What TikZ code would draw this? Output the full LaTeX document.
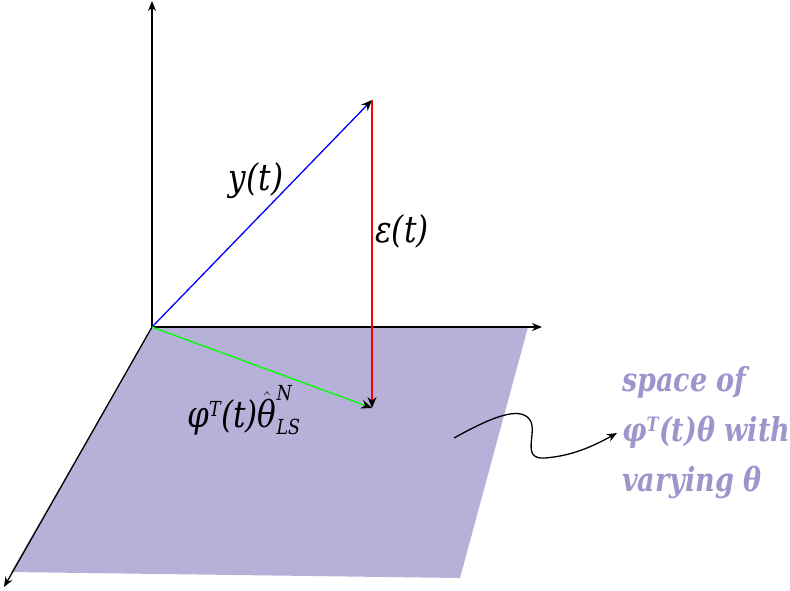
\documentclass[tikz,border=0pt]{standalone}
\usepackage{fontspec}
\setmainfont{DejaVu Serif}
\usetikzlibrary{arrows.meta}
\definecolor{planec}{HTML}{B6B1D9}
\definecolor{textc}{HTML}{9C96CC}
\newcommand{\smallit}[1]{\mbox{\fontsize{18}{18}\selectfont\itshape #1}}
\newcommand{\smallbf}[1]{\mbox{\fontsize{18}{18}\selectfont\bfseries\itshape #1}}
\begin{document}
\begin{tikzpicture}[x=1pt,y=-1pt,
  axis/.style={black,line width=1.3pt,-{Stealth[length=10pt,width=8pt]}},
  vec/.style={line width=1.3pt,-{Stealth[length=11pt,width=9pt,black]}},
  lbl/.style={font=\fontsize{32}{36}\selectfont\itshape,inner sep=0pt,xscale=0.97,yscale=1.15}]
\useasboundingbox (0,0) rectangle (790,590);
\coordinate (O) at (152,327);
\coordinate (Top) at (152,1);
\coordinate (Right) at (542,327);
\coordinate (Down) at (4,587);
\coordinate (P1) at (528,327);
\coordinate (P2) at (460,578);
\coordinate (P3) at (11,572);
\coordinate (Y) at (372,100);
\coordinate (F) at (372,408);
\fill[planec] (O) -- (P1) -- (P2) -- (P3) -- cycle;
\draw[axis] (O) -- (Top);
\draw[axis] (O) -- (Right);
\draw[axis] (O) -- (Down);
\draw[vec,blue] (O) -- (Y);
\draw[vec,red] (Y) -- (F);
\draw[vec,green] (O) -- (F);
\node[lbl] (ly) at (256,181) {y(t)};
\node[lbl] (le) at (402,231) {ε(t)};
\node[lbl] (lf) at (244,410) {φ$^{\smallit{T}}$(t)$\hat{\mbox{θ}}^{\smallit{N}}_{\smallit{LS}}$};
\node[font=\fontsize{30}{45.5}\selectfont\bfseries\itshape,text=textc,align=left,inner sep=0pt,anchor=north west,xscale=0.9,yscale=1.1] (lt) at (622,366) {space of\\φ$^{\smallbf{T}}$(t)θ with\\varying θ};
\coordinate (c0) at (454,438);
\coordinate (c1) at (617,433);
\draw[line width=1.3pt,-{Stealth[length=10pt,width=8pt]}] (c0) .. controls (490,418) and (520,405) .. (530,420) .. controls (538,432) and (520,460) .. (545,458) .. controls (570,456) and (590,448) .. (c1);
\end{tikzpicture}
\end{document}
